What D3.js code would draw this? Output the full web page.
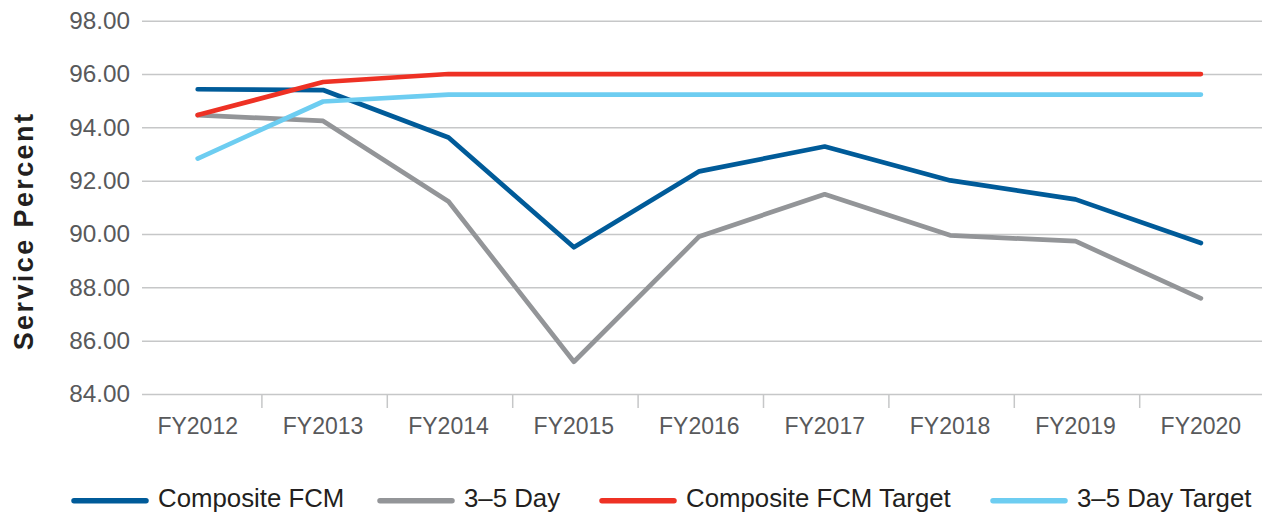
<!DOCTYPE html>
<html>
<head>
  <meta charset="utf-8">
  <title></title>
  <style>
    body { margin: 0; background: #fff; }
    text { font-family: "Liberation Sans", Arial, sans-serif; }
  </style>
</head>
<body>
  <script src="https://d3js.org/d3.v7.min.js"></script>
  <script>
    var years = ["FY2012", "FY2013", "FY2014", "FY2015", "FY2016", "FY2017", "FY2018", "FY2019", "FY2020"];
    var compositeFCM = [95.43, 95.40, 93.62, 89.50, 92.35, 93.28, 92.01, 91.30, 89.66];
    var threeFiveDay = [94.46, 94.24, 91.22, 85.21, 89.91, 91.49, 89.95, 89.73, 87.59];
    var compositeTarget = [94.46, 95.70, 96.00, 96.00, 96.00, 96.00, 96.00, 96.00, 96.00];
    var threeFiveTarget = [92.83, 94.97, 95.23, 95.23, 95.23, 95.23, 95.23, 95.23, 95.23];
    var yTicks = [84, 86, 88, 90, 92, 94, 96, 98];

    var series = [
      { name: "Composite FCM", values: compositeFCM, color: "#005b99" },
      { name: "3\u20135 Day", values: threeFiveDay, color: "#939598" },
      { name: "Composite FCM Target", values: compositeTarget, color: "#ee3124" },
      { name: "3\u20135 Day Target", values: threeFiveTarget, color: "#6dcdf1" }
    ];

    var width = 1262, height = 512;
    var svg = d3.select("body").append("svg")
      .attr("width", width)
      .attr("height", height);

    var x = d3.scaleBand().domain(years).range([135, 1263.6]);
    var y = d3.scaleLinear().domain([84, 98]).range([394, 20.7]);

    // grid + y labels
    var yAxis = svg.append("g")
      .attr("transform", "translate(142,0)")
      .call(d3.axisLeft(y).tickValues(yTicks).tickFormat(d3.format(".2f"))
        .tickSize(-(1262 - 142)).tickPadding(12));
    yAxis.select(".domain").remove();
    yAxis.selectAll("line").attr("stroke", "#c6c7c8").attr("stroke-width", 1.5);
    yAxis.selectAll("text")
      .attr("fill", "#58595b")
      .style("font-size", "24.3px");

    // category separators
    svg.append("g").selectAll("line")
      .data(years.slice(1))
      .enter().append("line")
      .attr("x1", function(d) { return x(d) + 1.5; })
      .attr("x2", function(d) { return x(d) + 1.5; })
      .attr("y1", 394)
      .attr("y2", 408)
      .attr("stroke", "#c6c7c8")
      .attr("stroke-width", 1.5);

    // x labels
    svg.append("g").selectAll("text")
      .data(years)
      .enter().append("text")
      .attr("x", function(d) { return x(d) + x.bandwidth() / 2; })
      .attr("y", 434)
      .attr("text-anchor", "middle")
      .attr("fill", "#58595b")
      .style("font-size", "23px")
      .text(function(d) { return d; });

    // y title
    svg.append("text")
      .attr("transform", "translate(33,231) rotate(-90)")
      .attr("text-anchor", "middle")
      .attr("fill", "#231f20")
      .style("font-size", "27px")
      .style("font-weight", "bold")
      .style("letter-spacing", "2.4px")
      .text("Service Percent");

    var line = d3.line()
      .x(function(d, i) { return x(years[i]) + x.bandwidth() / 2; })
      .y(function(d) { return y(d); });

    svg.append("g").selectAll("path")
      .data(series)
      .enter().append("path")
      .attr("d", function(d) { return line(d.values); })
      .attr("fill", "none")
      .attr("stroke", function(d) { return d.color; })
      .attr("stroke-width", 4.7)
      .attr("stroke-linecap", "round")
      .attr("stroke-linejoin", "round");

    // legend
    var legendX = [74, 380, 602, 993];
    var leg = svg.append("g").selectAll("g")
      .data(series)
      .enter().append("g")
      .attr("transform", function(d, i) { return "translate(" + legendX[i] + ",0)"; });
    leg.append("line")
      .attr("x1", 0).attr("x2", 72)
      .attr("y1", 500.7).attr("y2", 500.7)
      .attr("stroke", function(d) { return d.color; })
      .attr("stroke-width", 5.5)
      .attr("stroke-linecap", "round");
    leg.append("text")
      .attr("x", 84)
      .attr("y", 506.5)
      .attr("fill", "#231f20")
      .style("font-size", "25.8px")
      .text(function(d) { return d.name; });
  </script>
</body>
</html>
